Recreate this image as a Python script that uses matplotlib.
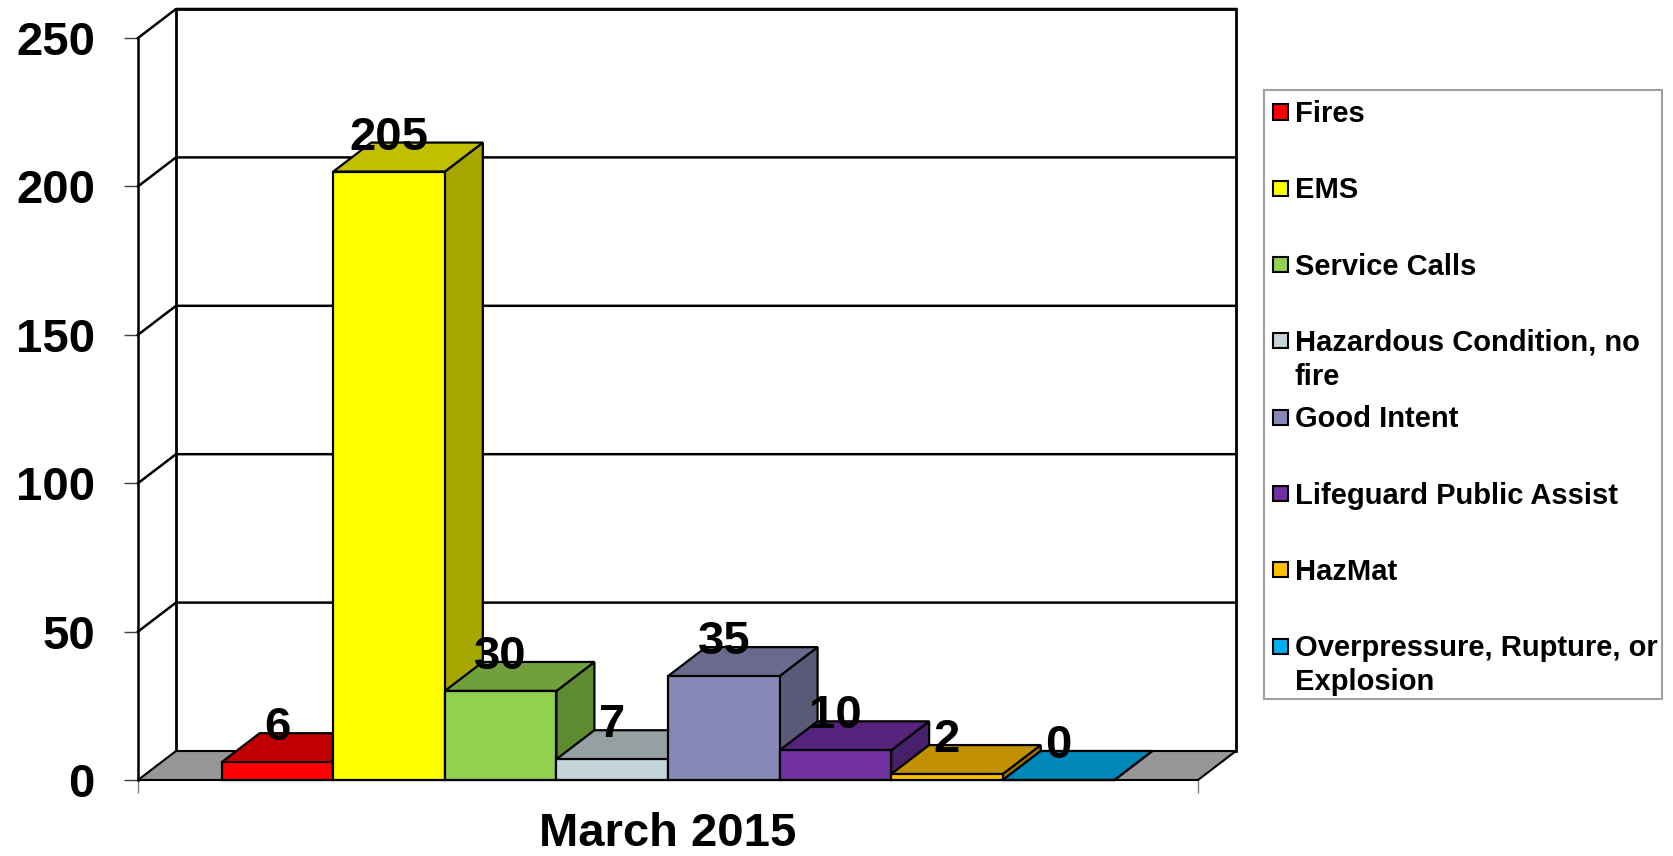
import matplotlib
matplotlib.use("Agg")
import matplotlib.pyplot as plt
from matplotlib.patches import Polygon, Rectangle

plt.rcParams['font.family'] = ['Liberation Sans', 'DejaVu Sans']
plt.rcParams['font.weight'] = 'bold'

# data
categories = ['Fires', 'EMS', 'Service Calls', 'Hazardous Condition, no\nfire',
              'Good Intent', 'Lifeguard Public Assist', 'HazMat',
              'Overpressure, Rupture, or\nExplosion']
values = [6, 205, 30, 7, 35, 10, 2, 0]
front_colors = ['#FF0000', '#FFFF00', '#92D050', '#C3D5DA', '#8888B8', '#7030A0', '#FFC000', '#00B0F0']
top_colors = ['#C00000', '#C0C000', '#70A03C', '#95A0A2', '#6A6A8E', '#55237C', '#C09000', '#0088B8']
side_colors = ['#990000', '#A6A600', '#5E8A30', '#7A8586', '#5A5A78', '#46206A', '#A07800', '#0070A0']
month = 'March 2015'
yticks = [0, 50, 100, 150, 200, 250]

W, H = 1674, 856
fig = plt.figure(figsize=(W / 100, H / 100), dpi=100)
ax = fig.add_axes([138 / W, 76 / H, 1060 / W, 742 / H])
ax.set_xlim(0, 1)
ax.set_ylim(0, 250)

# 3d depth offset (category units, value units)
DX = 38 / 1060
DY = 29 / (742 / 250)

# back wall
ax.add_patch(Polygon([(DX, DY), (1 + DX, DY), (1 + DX, 250 + DY), (DX, 250 + DY)],
                     closed=True, facecolor='white', edgecolor='black', lw=2, clip_on=False, zorder=1))
for v in yticks[1:]:
    ax.plot([0, DX, 1 + DX], [v, v + DY, v + DY], color='black', lw=1.8, clip_on=False, zorder=2)

# floor
ax.add_patch(Polygon([(0, 0), (1, 0), (1 + DX, DY), (DX, DY)], closed=True,
                     facecolor='#969696', edgecolor='black', lw=1.5, clip_on=False, zorder=2))

# bars
n = len(values)
w = 1 / (n + 1.5)
for i, v in enumerate(values):
    x0 = 0.75 * w + i * w
    x1 = x0 + w
    ax.add_patch(Polygon([(x1, 0), (x1 + DX, DY), (x1 + DX, v + DY), (x1, v)], closed=True,
                         facecolor=side_colors[i], edgecolor='black', lw=1.6, clip_on=False, zorder=3))
    ax.add_patch(Polygon([(x0, v), (x1, v), (x1 + DX, v + DY), (x0 + DX, v + DY)], closed=True,
                         facecolor=top_colors[i], edgecolor='black', lw=1.6, clip_on=False, zorder=3))
    ax.add_patch(Rectangle((x0, 0), w, v, facecolor=front_colors[i], edgecolor='black',
                           lw=1.6, clip_on=False, zorder=3))
    ax.text((x0 + x1) / 2, v + DY - 7 / (742 / 250), str(v), ha='center', va='baseline',
            fontsize=34, fontweight='bold', zorder=5)

# axes
for s in ['top', 'right', 'bottom']:
    ax.spines[s].set_visible(False)
ax.spines['left'].set_color('black')
ax.spines['left'].set_linewidth(1.8)
ax.spines['left'].set_zorder(2)
ax.set_yticks(yticks)
ax.set_yticklabels([str(t) for t in yticks])
ax.tick_params(axis='y', length=10, width=1, color='#404040', pad=21, labelsize=34)
ax.set_xticks([0, 1])
ax.set_xticklabels(['', ''])
ax.tick_params(axis='x', length=9.5, width=1, color='#808080')
ax.set_xlabel(month, fontsize=34, fontweight='bold', labelpad=10)
ax.patch.set_visible(False)

# legend
def fx(x):
    return x / W

def fy(y):
    return 1 - y / H

fig.patches.append(Rectangle((fx(1264), fy(699)), (1662 - 1264) / W, (699 - 90) / H,
                             transform=fig.transFigure, facecolor='white',
                             edgecolor='#A0A0A0', lw=1.5))
for i, lab in enumerate(categories):
    yc = 112 + i * 76.3
    fig.patches.append(Rectangle((fx(1273), fy(yc + 7.5)), 15 / W, 15 / H,
                                 transform=fig.transFigure, facecolor=front_colors[i],
                                 edgecolor='black', lw=1.5))
    for j, line in enumerate(lab.split('\n')):
        fig.text(fx(1295), fy(yc + 10 + j * 34), line, fontsize=21, fontweight='bold',
                 ha='left', va='baseline')

fig.savefig('out.png', dpi=100)
